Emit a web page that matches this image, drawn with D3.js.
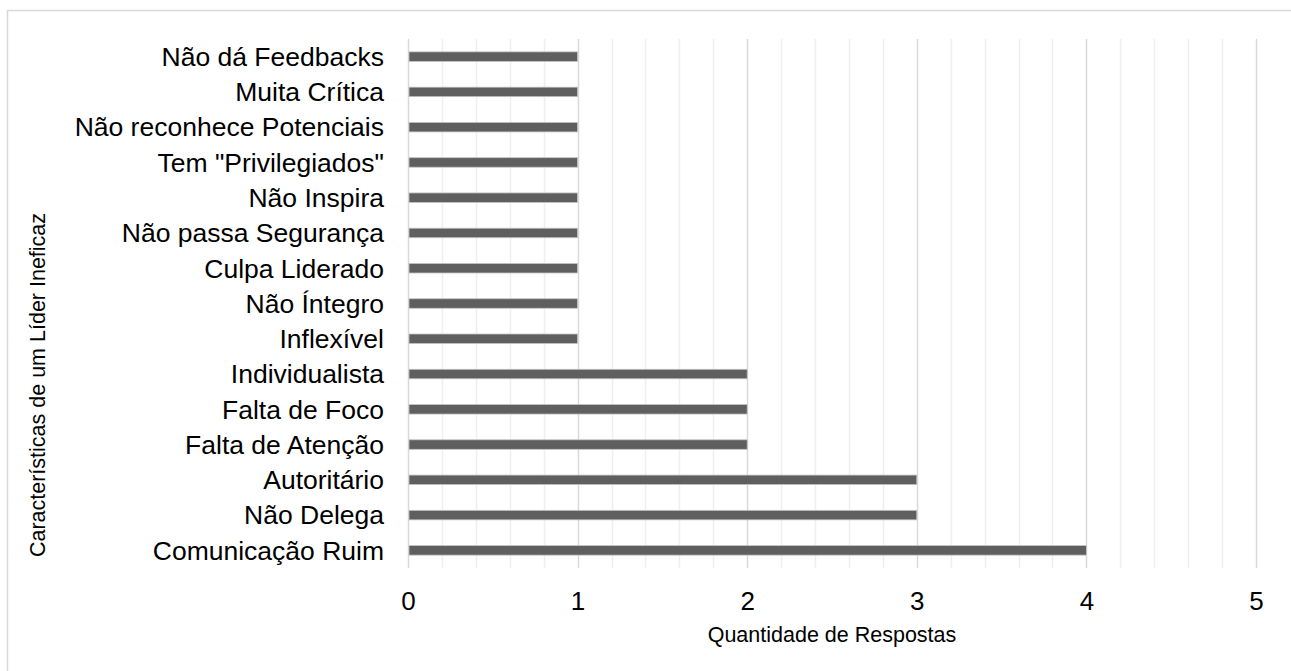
<!DOCTYPE html>
<html>
<head>
<meta charset="utf-8">
<script src="https://cdn.jsdelivr.net/npm/d3@7"></script>
<style>
  html, body { margin: 0; background: #fff; overflow: hidden; }
  svg { display: block; }
  text { font-family: "Liberation Sans", Arial, sans-serif; fill: #000; }
</style>
</head>
<body>
<div id="chart"></div>
<script>
// categories, top to bottom
const categories = [
  "Não dá Feedbacks",
  "Muita Crítica",
  "Não reconhece Potenciais",
  "Tem \"Privilegiados\"",
  "Não Inspira",
  "Não passa Segurança",
  "Culpa Liderado",
  "Não Íntegro",
  "Inflexível",
  "Individualista",
  "Falta de Foco",
  "Falta de Atenção",
  "Autoritário",
  "Não Delega",
  "Comunicação Ruim"
];
const values = [1, 1, 1, 1, 1, 1, 1, 1, 1, 2, 2, 2, 3, 3, 4];
const xTicks = [0, 1, 2, 3, 4, 5];
const xTitle = "Quantidade de Respostas";
const yTitle = "Características de um Líder Ineficaz";

const W = 1291, H = 671;
const margin = { top: 39, right: 35, bottom: 103, left: 408 };
const plotW = W - margin.left - margin.right,
  plotH = H - margin.top - margin.bottom;

const svg = d3.select("#chart")
  .append("svg")
  .attr("width", W)
  .attr("height", H);

// outer frame: only its top and left edges are inside the window
svg.append("path")
  .attr("d", "M7.5," + H + "V10.5H" + W)
  .attr("fill", "none")
  .attr("stroke", "#d9d9d9")
  .attr("stroke-width", 1.5);

const x = d3.scaleLinear().domain([0, 5]).range([0, plotW]);
const y = d3.scaleBand().domain(categories).range([0, plotH]).paddingInner(0.73).paddingOuter(0.365);

const g = svg.append("g")
  .attr("transform", "translate(" + margin.left + "," + margin.top + ")");

// minor gridlines
g.append("g")
  .selectAll("line")
  .data(d3.range(0, 25).map(d => d / 5).filter(d => d % 1 !== 0))
  .join("line")
  .attr("x1", d => Math.round(x(d)) + 0.5)
  .attr("x2", d => Math.round(x(d)) + 0.5)
  .attr("y1", 0).attr("y2", plotH)
  .attr("stroke", "#efefef")
  .attr("stroke-width", 1.5);

// major gridlines
g.append("g")
  .selectAll("line")
  .data(xTicks)
  .join("line")
  .attr("x1", d => Math.round(x(d)) + 0.5)
  .attr("x2", d => Math.round(x(d)) + 0.5)
  .attr("y1", 0).attr("y2", plotH)
  .attr("stroke", "#d9d9d9")
  .attr("stroke-width", 1.5);

// bars
g.append("g")
  .selectAll("rect")
  .data(categories)
  .join("rect")
  .attr("x", x(0) + 1)
  .attr("y", d => y(d))
  .attr("width", (d, i) => x(values[i]) - x(0) - 1)
  .attr("height", y.bandwidth())
  .attr("fill", "#5f5f5f")
  .attr("stroke", "#c4c4c4")
  .attr("stroke-width", 0.8);

// category labels
const yAxis = d3.axisLeft(y).tickSize(0).tickPadding(24);
g.append("g")
  .call(yAxis)
  .call(s => s.select(".domain").remove())
  .selectAll("text")
  .style("font-size", "26.5px")
  .attr("dy", "0.35em");

// x tick labels
const xAxis = d3.axisBottom(x).tickValues(xTicks).tickFormat(d3.format("d")).tickSize(0).tickPadding(24);
g.append("g")
  .attr("transform", "translate(0," + plotH + ")")
  .call(xAxis)
  .call(s => s.select(".domain").remove())
  .selectAll("text")
  .style("font-size", "26px");

// axis titles
svg.append("text")
  .attr("x", margin.left + plotW / 2)
  .attr("y", 642)
  .attr("text-anchor", "middle")
  .style("font-size", "21.5px")
  .text(xTitle);

svg.append("text")
  .attr("transform", "translate(45," + 385 + ") rotate(-90)")
  .attr("text-anchor", "middle")
  .style("font-size", "21.5px")
  .text(yTitle);
</script>
</body>
</html>
